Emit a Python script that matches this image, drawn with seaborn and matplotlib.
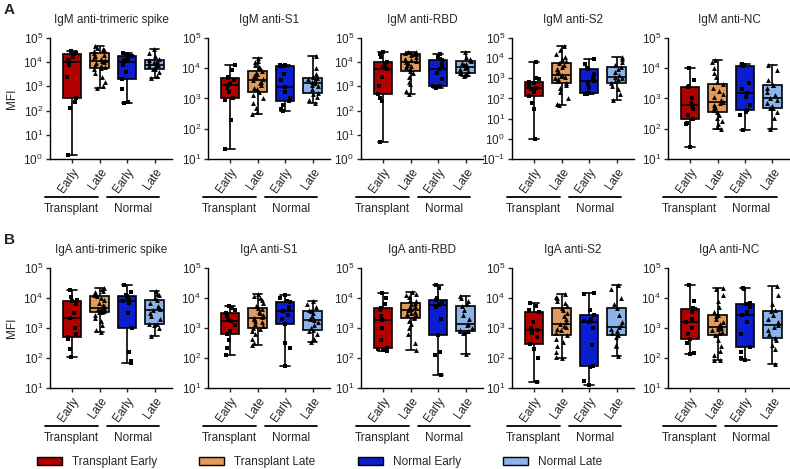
import matplotlib
matplotlib.use("Agg")
import matplotlib.pyplot as plt
import matplotlib.ticker as mticker
from matplotlib.patches import Patch
import numpy as np
import pandas as pd
import seaborn as sns

# groups and colours
GROUPS = ["Transplant Early", "Transplant Late", "Normal Early", "Normal Late"]
TICK_LABELS = ["Early", "Late", "Early", "Late"]
COLORS = ["#b00000", "#e09a5c", "#0a1ecf", "#8db4e8"]

# values as log10(MFI), one list per group:
# [Transplant Early, Transplant Late, Normal Early, Normal Late]
IGM_SPIKE = [
    [0.15, 2.1, 2.35, 2.5, 3.4, 3.9, 4.0, 4.1, 4.2, 4.35, 4.35, 4.4, 4.45],
    [2.95, 3.0, 3.2, 3.4, 3.55, 3.7, 3.75, 3.8, 3.85, 3.9, 3.95, 4.0, 4.05, 4.1, 4.15, 4.2, 4.25, 4.3, 4.4, 4.45, 4.5, 4.5, 4.55, 4.6, 4.65],
    [2.3, 2.35, 2.9, 3.3, 3.6, 3.9, 4.0, 4.1, 4.15, 4.25, 4.3, 4.35, 4.4],
    [3.35, 3.45, 3.6, 3.7, 3.73, 3.8, 3.85, 3.88, 3.9, 3.95, 4.0, 4.05, 4.08, 4.15, 4.25, 4.4, 4.55],
]
IGM_S1 = [
    [1.33, 2.3, 2.95, 3.0, 3.2, 3.35, 3.45, 3.5, 3.6, 3.67, 3.7, 3.95, 4.1],
    [2.5, 2.55, 2.7, 2.85, 3.0, 3.1, 3.22, 3.3, 3.35, 3.45, 3.5, 3.55, 3.6, 3.65, 3.7, 3.75, 3.8, 3.85, 3.92, 4.0, 4.05, 4.1, 4.2, 4.25, 4.33],
    [2.6, 2.65, 2.8, 2.92, 3.0, 3.2, 3.37, 3.6, 3.8, 4.08, 4.08, 4.1, 4.1],
    [2.86, 2.95, 3.05, 3.15, 3.19, 3.3, 3.4, 3.45, 3.5, 3.55, 3.6, 3.65, 3.67, 3.7, 3.8, 4.0, 4.39],
]
IGM_RBD = [
    [0.7, 2.4, 2.5, 2.7, 3.0, 3.4, 3.7, 3.8, 3.9, 4.0, 4.2, 4.35, 4.42],
    [2.68, 2.8, 3.1, 3.2, 3.4, 3.55, 3.64, 3.7, 3.8, 3.85, 3.9, 3.95, 4.0, 4.05, 4.1, 4.15, 4.2, 4.3, 4.35, 4.35, 4.38, 4.4, 4.4, 4.42, 4.42],
    [2.95, 2.98, 3.0, 3.0, 3.3, 3.55, 3.7, 3.8, 3.95, 4.1, 4.15, 4.2, 4.33],
    [3.43, 3.47, 3.5, 3.55, 3.57, 3.65, 3.7, 3.78, 3.82, 3.88, 3.92, 3.98, 4.03, 4.08, 4.15, 4.2, 4.43],
]
IGM_S2 = [
    [0.0, 1.5, 1.8, 2.13, 2.3, 2.45, 2.5, 2.6, 2.75, 2.83, 2.95, 3.0, 3.83],
    [1.67, 1.75, 2.0, 2.3, 2.5, 2.65, 2.75, 2.85, 2.95, 3.0, 3.05, 3.1, 3.18, 3.25, 3.35, 3.45, 3.55, 3.65, 3.75, 3.85, 3.95, 4.05, 4.2, 4.4, 4.58],
    [2.22, 2.24, 2.25, 2.25, 2.5, 2.7, 2.88, 3.0, 3.2, 3.47, 3.5, 3.7, 3.97],
    [1.92, 2.2, 2.45, 2.6, 2.75, 2.85, 2.95, 3.0, 3.08, 3.15, 3.3, 3.45, 3.55, 3.65, 3.8, 3.95, 4.05],
]
IGM_NC = [
    [1.39, 2.15, 2.2, 2.33, 2.45, 2.65, 2.8, 2.85, 3.0, 3.37, 3.4, 3.6, 4.0],
    [1.98, 2.05, 2.15, 2.25, 2.35, 2.45, 2.56, 2.62, 2.68, 2.72, 2.78, 2.84, 2.89, 2.95, 3.05, 3.15, 3.25, 3.35, 3.48, 3.55, 3.7, 3.85, 4.0, 4.2, 4.28],
    [1.97, 2.45, 2.55, 2.61, 2.8, 3.05, 3.19, 3.3, 3.5, 4.09, 4.1, 4.12, 4.13],
    [1.98, 2.35, 2.55, 2.68, 2.69, 2.75, 2.85, 2.95, 3.0, 3.1, 3.2, 3.35, 3.44, 3.45, 3.6, 3.95, 4.1],
]
IGA_SPIKE = [
    [2.03, 2.3, 2.65, 2.7, 2.8, 3.0, 3.33, 3.5, 3.8, 3.91, 3.95, 4.05, 4.28],
    [2.86, 2.95, 3.1, 3.25, 3.35, 3.45, 3.52, 3.55, 3.58, 3.6, 3.62, 3.65, 3.67, 3.72, 3.78, 3.85, 3.92, 4.0, 4.06, 4.1, 4.15, 4.2, 4.25, 4.3, 4.33],
    [1.83, 1.9, 2.2, 3.0, 3.5, 3.85, 3.9, 3.95, 4.0, 4.06, 4.1, 4.2, 4.44],
    [2.72, 3.0, 3.1, 3.12, 3.13, 3.3, 3.4, 3.5, 3.6, 3.65, 3.75, 3.85, 3.94, 4.0, 4.1, 4.15, 4.22],
]
IGA_S1 = [
    [2.09, 2.35, 2.6, 2.79, 2.9, 3.1, 3.23, 3.3, 3.4, 3.51, 3.6, 3.68, 3.72],
    [2.44, 2.5, 2.65, 2.8, 2.9, 2.97, 3.01, 3.08, 3.14, 3.2, 3.25, 3.3, 3.34, 3.38, 3.44, 3.5, 3.55, 3.62, 3.68, 3.75, 3.85, 3.95, 4.0, 4.08, 4.12],
    [1.72, 2.35, 2.5, 3.14, 3.3, 3.45, 3.56, 3.6, 3.7, 3.87, 3.9, 4.0, 4.11],
    [2.53, 2.65, 2.8, 2.9, 2.94, 3.0, 3.1, 3.2, 3.26, 3.3, 3.4, 3.5, 3.56, 3.6, 3.7, 3.8, 3.9],
]
IGA_RBD = [
    [2.25, 2.28, 2.3, 2.35, 2.6, 3.0, 3.28, 3.4, 3.6, 3.68, 3.8, 4.0, 4.17],
    [2.26, 2.5, 2.8, 3.0, 3.15, 3.25, 3.33, 3.38, 3.42, 3.46, 3.5, 3.55, 3.59, 3.62, 3.65, 3.7, 3.75, 3.8, 3.83, 3.9, 3.95, 4.05, 4.1, 4.15, 4.2],
    [1.42, 2.1, 2.2, 2.76, 3.3, 3.7, 3.76, 3.8, 3.88, 3.92, 4.0, 4.35, 4.42],
    [2.12, 2.85, 2.88, 2.9, 2.9, 2.95, 3.0, 3.1, 3.14, 3.3, 3.45, 3.6, 3.73, 3.8, 3.9, 4.0, 4.06],
]
IGA_S2 = [
    [1.2, 2.0, 2.3, 2.48, 2.7, 2.85, 2.94, 3.0, 3.2, 3.53, 3.6, 3.75, 3.83],
    [2.0, 2.05, 2.2, 2.4, 2.55, 2.65, 2.76, 2.85, 2.92, 2.98, 3.03, 3.08, 3.14, 3.2, 3.3, 3.4, 3.5, 3.6, 3.67, 3.75, 3.85, 3.9, 4.0, 4.05, 4.12],
    [1.1, 1.25, 1.7, 1.72, 2.45, 3.0, 3.2, 3.25, 3.3, 3.42, 3.6, 4.15, 4.18],
    [2.06, 2.4, 2.45, 2.7, 2.78, 2.85, 2.9, 2.98, 3.03, 3.1, 3.2, 3.45, 3.67, 3.8, 4.0, 4.3, 4.44],
]
IGA_NC = [
    [2.14, 2.16, 2.5, 2.64, 2.8, 3.0, 3.2, 3.3, 3.55, 3.64, 3.68, 3.9, 4.42],
    [1.92, 1.95, 2.1, 2.25, 2.4, 2.6, 2.76, 2.82, 2.88, 2.92, 2.96, 3.0, 3.03, 3.08, 3.12, 3.2, 3.3, 3.4, 3.44, 3.55, 3.7, 3.9, 4.1, 4.3, 4.34],
    [1.92, 2.0, 2.2, 2.37, 2.8, 3.2, 3.42, 3.55, 3.7, 3.8, 3.83, 4.3, 4.34],
    [1.81, 2.3, 2.45, 2.6, 2.67, 2.8, 2.95, 3.05, 3.09, 3.2, 3.3, 3.45, 3.56, 3.6, 3.8, 4.1, 4.39],
]

TITLES_A = ["IgM anti-trimeric spike", "IgM anti-S1", "IgM anti-RBD", "IgM anti-S2", "IgM anti-NC"]
TITLES_B = ["IgA anti-trimeric spike", "IgA anti-S1", "IgA anti-RBD", "IgA anti-S2", "IgA anti-NC"]
DATA_A = [IGM_SPIKE, IGM_S1, IGM_RBD, IGM_S2, IGM_NC]
DATA_B = [IGA_SPIKE, IGA_S1, IGA_RBD, IGA_S2, IGA_NC]
YMIN_A = [0, 1, 0, -1, 1]   # lowest decade shown
YMIN_B = [1, 1, 1, 1, 1]

W, H = 790, 469
BOX0 = [72, 230, 383, 534, 690]   # pixel x of first box in each column
STEP = 27.5
XLIM = (-0.8, 3.65)

sns.set_style("ticks")
plt.rcParams["font.family"] = ["Liberation Sans", "DejaVu Sans"]
plt.rcParams["mathtext.fontset"] = "custom"
plt.rcParams["mathtext.rm"] = "Liberation Sans"


def make_df(groups_vals):
    rows = []
    for g, vals in zip(GROUPS, groups_vals):
        for v in vals:
            rows.append((g, 10.0 ** v))
    return pd.DataFrame(rows, columns=["group", "mfi"])


def draw_panel(fig, col, top_px, bot_px, title, vals, ymin, first):
    left = BOX0[col] + XLIM[0] * STEP
    width = (XLIM[1] - XLIM[0]) * STEP
    ax = fig.add_axes([left / W, 1 - bot_px / H, width / W, (bot_px - top_px) / H])
    ax.set_yscale("log")
    df = make_df(vals)

    sns.boxplot(data=df, x="group", y="mfi", hue="group", order=GROUPS, hue_order=GROUPS,
                palette=COLORS, saturation=1, whis=(0, 100), width=0.68, linewidth=1.2,
                linecolor="black", showfliers=False, legend=False, ax=ax)
    early = df[df["group"].str.endswith("Early")]
    late = df[df["group"].str.endswith("Late")]
    sns.stripplot(data=early, x="group", y="mfi", order=GROUPS, color="black", marker="s",
                  size=3.3, jitter=0.2, ax=ax)
    sns.stripplot(data=late, x="group", y="mfi", order=GROUPS, color="black", marker="^",
                  size=3.5, jitter=0.22, ax=ax)

    ax.set_xlim(*XLIM)
    ax.set_ylim(10.0 ** ymin, 1e5)
    ax.yaxis.set_major_locator(mticker.LogLocator(base=10, numticks=10))
    ax.yaxis.set_minor_locator(mticker.NullLocator())
    ax.set_xticks(range(4))
    ax.set_xticklabels(TICK_LABELS, rotation=55, ha="right", rotation_mode="anchor", fontsize=8.5)
    ax.tick_params(axis="y", labelsize=8.5, length=3, width=1, pad=2)
    ax.tick_params(axis="x", length=3, width=1, pad=2)
    ax.set_xlabel("")
    ax.set_ylabel("MFI" if first else "", fontsize=8.5, labelpad=4)
    for s in ["left", "bottom"]:
        ax.spines[s].set_linewidth(1.0)
        ax.spines[s].set_color("black")
    sns.despine(ax=ax)
    ax.set_title(title, fontsize=8.5, pad=11)

    # group brackets under the tick labels
    tr = ax.get_xaxis_transform()
    for x0, x1, name in [(-1.0, 0.93, "Transplant"), (1.26, 3.15, "Normal")]:
        ax.plot([x0, x1], [-0.315, -0.315], color="black", lw=1.3, transform=tr, clip_on=False)
        ax.text((x0 + x1) / 2, -0.415, name, transform=tr, ha="center", va="center", fontsize=8.5)
    return ax


fig = plt.figure(figsize=(W / 100, H / 100), dpi=100)

for i in range(5):
    draw_panel(fig, i, 38, 159, TITLES_A[i], DATA_A[i], YMIN_A[i], i == 0)
    draw_panel(fig, i, 268, 388, TITLES_B[i], DATA_B[i], YMIN_B[i], i == 0)

fig.text(4 / W, 1 - 10 / H, "A", fontsize=11, fontweight="bold", va="center", ha="left")
fig.text(4 / W, 1 - 240 / H, "B", fontsize=11, fontweight="bold", va="center", ha="left")

handles = [Patch(facecolor=c, edgecolor="black", linewidth=1.0) for c in COLORS]
fig.legend(handles, GROUPS, loc="center left", bbox_to_anchor=(37 / W, 1 - 462 / H),
           ncol=4, frameon=False, fontsize=8.5, handlelength=2.1, handleheight=0.75,
           handletextpad=0.85, columnspacing=3.6, borderpad=0, borderaxespad=0)

fig.savefig("out.png", dpi=100)
